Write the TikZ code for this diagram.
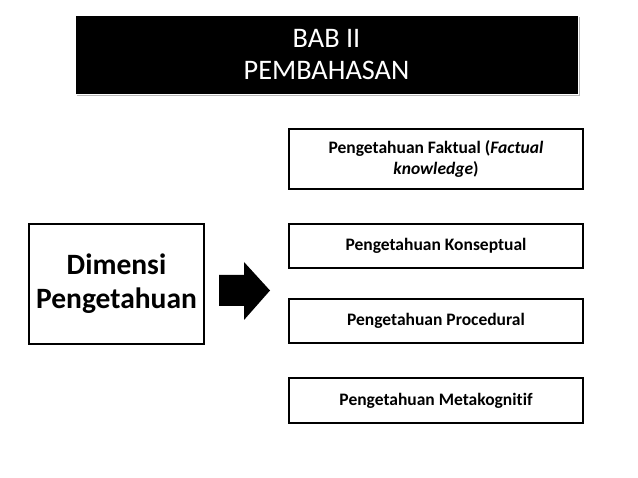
\documentclass[tikz,border=0pt]{standalone}
\usepackage{fontspec}
\setmainfont{Carlito}[Ligatures={NoCommon}]
\usetikzlibrary{shadows}
\begin{document}
\begin{tikzpicture}[x=1pt,y=-1pt,
  titlebox/.style={fill=black,draw=white,line width=0.8pt,text=white,align=center,
    minimum width=503pt,minimum height=79pt,inner sep=0pt,
    drop shadow={shadow xshift=1.5pt,shadow yshift=-2pt,fill=black!35,opacity=0.8},
    font=\fontsize{28.3}{32}\selectfont},
  mainbox/.style={draw=black,line width=1.4pt,align=center,minimum width=175pt,minimum height=120pt,
    inner sep=0pt,font=\fontsize{29.5}{34}\selectfont\bfseries},
  itembox/.style={draw=black,line width=1.4pt,align=center,minimum width=294pt,inner sep=0pt,
    font=\fontsize{17.5}{21}\selectfont\bfseries}]
\useasboundingbox (0,0) rectangle (638,478);
\node[titlebox] (title) at (326.5,54.5) {BAB II\\PEMBAHASAN};
\node[mainbox] (dim) at (116.5,284) {Dimensi\\Pengetahuan};
\fill[black] (219,275) -- (244,275) -- (244,262) -- (270,290.5) -- (244,320) -- (244,306) -- (219,306) -- cycle;
\node[itembox,minimum height=60pt] (f) at (436,159) {Pengetahuan Faktual (\textit{Factual}\\\textit{knowledge})};
\node[itembox,minimum height=44pt] (k) at (436,246) {Pengetahuan Konseptual};
\node[itembox,minimum height=44pt] (p) at (436,321) {Pengetahuan Procedural};
\node[itembox,minimum height=45pt] (m) at (436,400.5) {Pengetahuan Metakognitif};
\end{tikzpicture}
\end{document}
